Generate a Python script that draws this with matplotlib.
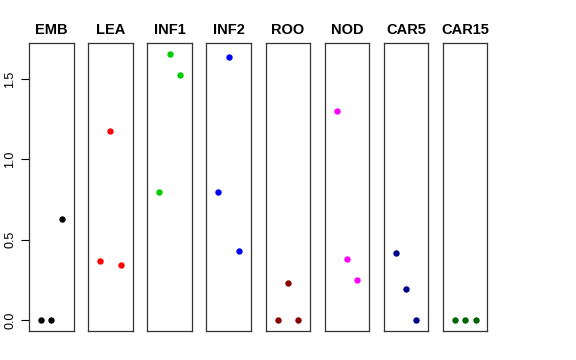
import matplotlib
matplotlib.use("Agg")
import matplotlib.pyplot as plt

plt.rcParams['font.family'] = ['Liberation Sans', 'DejaVu Sans']

# 各组名称、颜色与数值（每组3个点）
groups = ['EMB', 'LEA', 'INF1', 'INF2', 'ROO', 'NOD', 'CAR5', 'CAR15']
colors = ['#000000', '#FF0000', '#00CD00', '#0000FF', '#8B0000', '#FF00FF', '#00008B', '#006400']
emb = [0.0, 0.0, 0.63]
lea = [0.37, 1.177, 0.345]
inf1 = [0.796, 1.657, 1.523]
inf2 = [0.80, 1.638, 0.431]
roo = [0.0, 0.234, 0.0]
nod = [1.303, 0.379, 0.252]
car5 = [0.42, 0.195, 0.0]
car15 = [0.0, 0.0, 0.0]
values = [emb, lea, inf1, inf2, roo, nod, car5, car15]
x_pos = [1, 2, 3]
y_ticks = [0.0, 0.5, 1.0, 1.5]

fig = plt.figure(figsize=(5.76, 3.6), dpi=100)

W, H = 576.0, 360.0
top_px, bottom_px = 43.3, 331.0
left0, step, width = 29.0, 59.14, 44.5

for i, (name, col, vals) in enumerate(zip(groups, colors, values)):
    left = left0 + i * step
    ax = fig.add_axes([left / W, 1 - bottom_px / H, width / W, (bottom_px - top_px) / H])
    ax.plot(x_pos, vals, 'o', color=col, markersize=4.6, markeredgewidth=0)
    ax.set_xlim(-0.16, 4.16)
    ax.set_ylim(-0.0665, 1.722)
    ax.set_xticks([])
    ax.set_title(name, fontsize=10.5, fontweight='bold', pad=7)
    for sp in ax.spines.values():
        sp.set_linewidth(0.9)
        sp.set_color('#333333')
    if i == 0:
        ax.set_yticks(y_ticks)
        ax.set_yticklabels([f'{t:.1f}' for t in y_ticks], rotation=90, va='center', fontsize=9)
        ax.tick_params(axis='y', length=6, width=0.8, pad=3)
    else:
        ax.set_yticks([])

fig.savefig('out.png', dpi=100)
